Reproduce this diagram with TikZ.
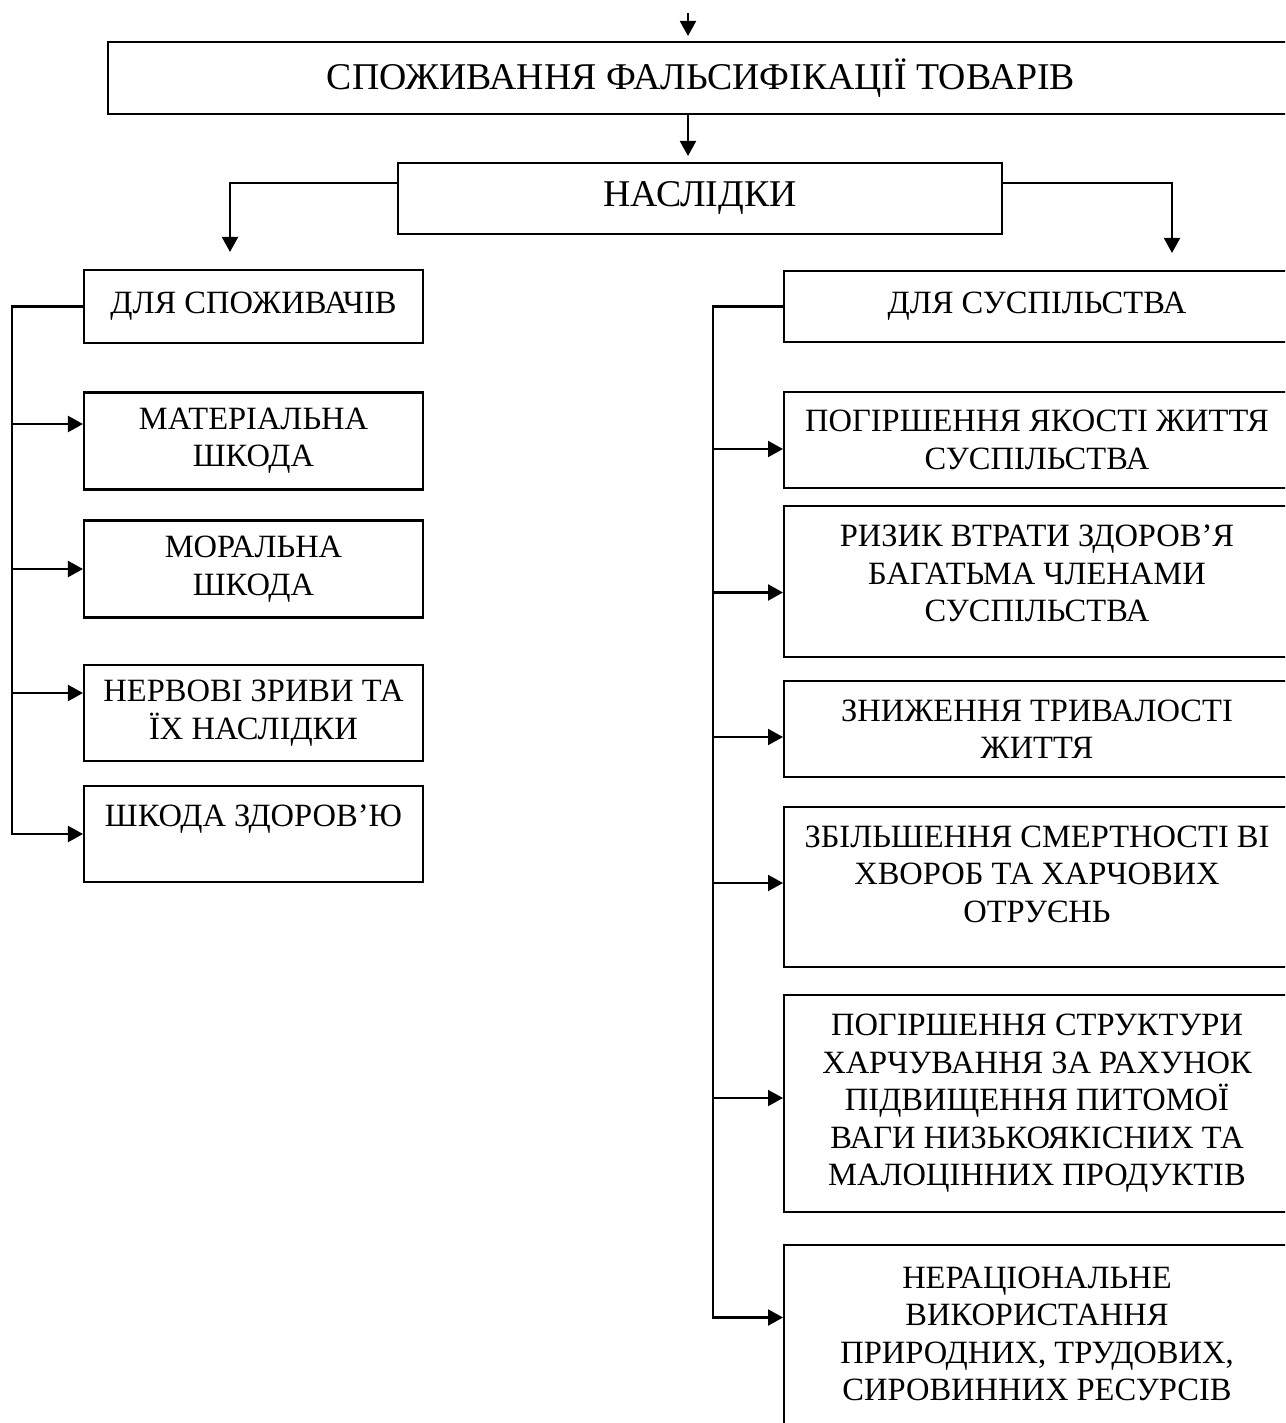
\documentclass[tikz,border=0pt]{standalone}
\usepackage{fontspec}
\setmainfont{Liberation Serif}
\usetikzlibrary{arrows.meta}

\begin{document}
\begin{tikzpicture}[x=0.02cm, y=-0.02cm,
  blok/.style={draw, line width=1.2pt, align=center, inner sep=0pt, font=\fontsize{18.5pt}{21.3pt}\selectfont},
  vblok/.style={blok, font=\fontsize{21.5pt}{24pt}\selectfont},
  lblok/.style={blok, minimum width=6.78cm},
  rblok/.style={blok, minimum width=10.12cm},
  liniya/.style={line width=1.2pt},
  strilka/.style={liniya, -{Triangle[length=0.3cm,width=0.32cm]}}]
\clip (0,0) rectangle (1285,1423);
\node[vblok, minimum width=23.72cm, minimum height=1.44cm] (spoz) at (701,78) {СПОЖИВАННЯ ФАЛЬСИФІКАЦІЇ ТОВАРІВ};
\node[vblok, minimum width=12.08cm, minimum height=1.42cm] (nasl) at (700,198.5) {НАСЛІДКИ};
\node[lblok, minimum height=1.46cm] (l0) at (253.5,306.5) {ДЛЯ СПОЖИВАЧІВ};
\node[lblok, minimum height=1.94cm] (l1) at (253.5,441) {МАТЕРІАЛЬНА\\ШКОДА};
\node[lblok, minimum height=1.94cm] (l2) at (253.5,569) {МОРАЛЬНА\\ШКОДА};
\node[lblok, minimum height=1.92cm] (l3) at (253.5,713) {НЕРВОВІ ЗРИВИ ТА\\ЇХ НАСЛІДКИ};
\node[lblok, minimum height=1.92cm] (l4) at (253.5,834) {ШКОДА ЗДОРОВ’Ю\\\mbox{}};
\node[rblok, minimum height=1.42cm] (r0) at (1037,306.5) {ДЛЯ СУСПІЛЬСТВА};
\node[rblok, minimum height=1.92cm] (r1) at (1037,440) {ПОГІРШЕННЯ ЯКОСТІ ЖИТТЯ\\СУСПІЛЬСТВА};
\node[rblok, minimum height=3.02cm] (r2) at (1037,581.5) {РИЗИК ВТРАТИ ЗДОРОВ’Я\\БАГАТЬМА ЧЛЕНАМИ\\СУСПІЛЬСТВА\\[-12pt]\mbox{}};
\node[rblok, minimum height=1.92cm] (r3) at (1037,729) {ЗНИЖЕННЯ ТРИВАЛОСТІ\\ЖИТТЯ};
\node[rblok, minimum height=3.2cm] (r4) at (1037,887) {ЗБІЛЬШЕННЯ СМЕРТНОСТІ ВІ\\ХВОРОБ ТА ХАРЧОВИХ\\ОТРУЄНЬ\\[-6.6pt]\mbox{}};
\node[rblok, minimum height=4.34cm] (r5) at (1037,1103.5) {ПОГІРШЕННЯ СТРУКТУРИ\\ХАРЧУВАННЯ ЗА РАХУНОК\\ПІДВИЩЕННЯ ПИТОМОЇ\\ВАГИ НИЗЬКОЯКІСНИХ ТА\\МАЛОЦІННИХ ПРОДУКТІВ};
\node[rblok, minimum height=4.3cm] (r6) at (1037,1352.5) {НЕРАЦІОНАЛЬНЕ\\ВИКОРИСТАННЯ\\ПРИРОДНИХ, ТРУДОВИХ,\\СИРОВИННИХ РЕСУРСІВ\\\mbox{}};
\coordinate (vhid) at (688,13);
\coordinate (lvuz) at (230,183);
\coordinate (rvuz) at (1172,183);
\coordinate (lbus) at (12,303);
\coordinate (rbus) at (713,303);
\draw[strilka, shorten >=0.1cm] (vhid) -- (vhid |- spoz.north);
\draw[strilka, shorten >=0.12cm] (vhid |- spoz.south) -- (vhid |- nasl.north);
\draw[strilka, shorten >=0.34cm] (nasl.west |- lvuz) -- (lvuz) -- (lvuz |- l0.north);
\draw[strilka, shorten >=0.34cm] (nasl.east |- rvuz) -- (rvuz) -- (rvuz |- r0.north);
\draw[strilka] (l0.west) -- (l0.west -| lbus) |- (l4.west);
\draw[strilka] ([yshift=0.34cm]l1.west -| lbus) -- ([yshift=0.34cm]l1.west);
\draw[strilka] (l2.west -| lbus) -- (l2.west);
\draw[strilka] ([yshift=0.4cm]l3.west -| lbus) -- ([yshift=0.4cm]l3.west);
\draw[strilka] (r0.west) -- (r0.west -| rbus) |- ([yshift=0.7cm]r6.west);
\draw[strilka] ([yshift=-0.18cm]r1.west -| rbus) -- ([yshift=-0.18cm]r1.west);
\draw[strilka] ([yshift=-0.22cm]r2.west -| rbus) -- ([yshift=-0.22cm]r2.west);
\draw[strilka] ([yshift=-0.16cm]r3.west -| rbus) -- ([yshift=-0.16cm]r3.west);
\draw[strilka] ([yshift=0.08cm]r4.west -| rbus) -- ([yshift=0.08cm]r4.west);
\draw[strilka] ([yshift=0.11cm]r5.west -| rbus) -- ([yshift=0.11cm]r5.west);
\end{tikzpicture}
\end{document}
